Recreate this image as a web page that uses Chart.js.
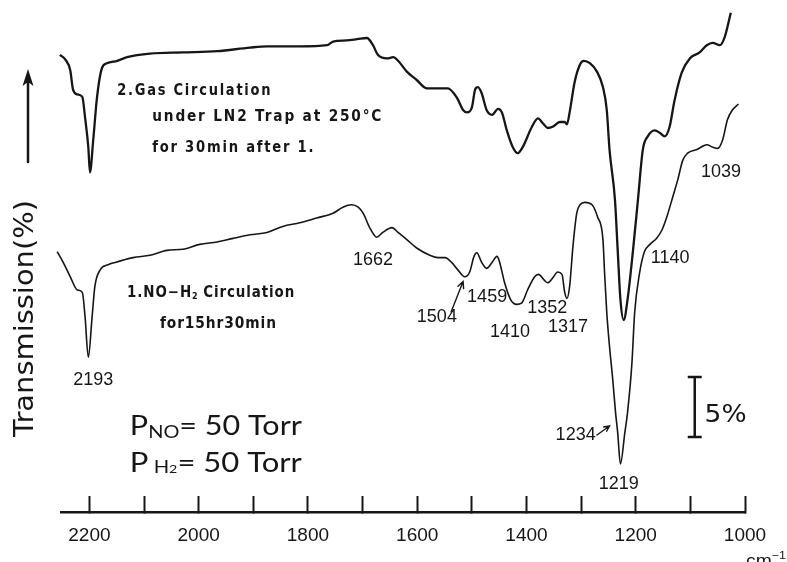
<!DOCTYPE html>
<html>
<head>
<meta charset="utf-8">
<script src="https://cdn.jsdelivr.net/npm/chart.js@4/dist/chart.umd.min.js"></script>
<style>
  html, body { margin: 0; padding: 0; background: #fff; }
</style>
</head>
<body>
<canvas id="irChart" width="787" height="562"></canvas>
<script>
// Trace 2 (gas circulation under LN2 trap), wavenumber cm-1 / transmission %
const gasWn = [2254, 2244, 2235, 2230, 2222, 2213, 2208, 2202, 2199, 2193,
  2186, 2177, 2168, 2149, 2131, 2089, 2029, 1966, 1906, 1875,
  1815, 1765, 1754, 1729, 1710, 1692, 1681, 1672, 1655, 1644,
  1635, 1619, 1601, 1582, 1571, 1553, 1544, 1527, 1516, 1509,
  1500, 1494, 1489, 1482, 1473, 1463, 1452, 1445, 1436, 1425,
  1416, 1407, 1390, 1379, 1370, 1361, 1352, 1339, 1330, 1326,
  1321, 1312, 1302, 1295, 1284, 1271, 1260, 1253, 1248, 1238,
  1233, 1228, 1222, 1215, 1205, 1196, 1187, 1178, 1165, 1156,
  1147, 1138, 1129, 1116, 1101, 1083, 1070, 1059, 1046, 1037, 1026];
const gasT = [38.1, 37.7, 36.8, 35.2, 34.8, 34.6, 32.9, 30.4, 28.3, 31.0,
  34.6, 37.0, 37.4, 37.6, 37.9, 38.2, 38.3, 38.4, 38.7, 38.8,
  38.8, 38.9, 39.2, 39.3, 39.4, 39.5, 38.9, 38.1, 37.8, 37.9,
  37.6, 36.7, 36.0, 35.3, 35.3, 35.3, 35.3, 34.5, 33.5, 33.3,
  33.7, 35.2, 35.4, 34.9, 33.5, 33.1, 33.6, 33.3, 31.8, 30.4,
  29.9, 30.4, 32.1, 32.8, 32.4, 32.0, 32.1, 32.5, 32.5, 32.3,
  33.3, 35.8, 37.3, 37.6, 37.4, 36.7, 35.4, 33.5, 30.2, 26.0,
  21.8, 17.7, 16.0, 17.7, 21.8, 26.0, 30.2, 31.3, 31.8, 31.6,
  31.3, 32.1, 34.3, 36.6, 37.8, 38.3, 38.9, 39.1, 38.9, 39.6, 41.6];

// Trace 1 (NO-H2 circulation 15hr30min)
const noWn = [2259, 2248, 2235, 2222, 2213, 2208, 2202, 2195, 2190, 2180,
  2166, 2153, 2120, 2089, 2058, 2029, 1998, 1966, 1937, 1906,
  1875, 1846, 1815, 1784, 1754, 1736, 1720, 1708, 1699, 1687,
  1674, 1663, 1646, 1635, 1619, 1601, 1577, 1562, 1549, 1537,
  1526, 1513, 1504, 1496, 1491, 1482, 1473, 1463, 1454, 1449,
  1440, 1429, 1418, 1409, 1398, 1385, 1378, 1367, 1361, 1352,
  1343, 1335, 1330, 1326, 1321, 1315, 1308, 1302, 1293, 1280,
  1270, 1260, 1257, 1253, 1248, 1242, 1237, 1233, 1228, 1220,
  1215, 1207, 1202, 1193, 1184, 1174, 1162, 1152, 1143, 1132,
  1123, 1114, 1105, 1088, 1070, 1059, 1050, 1041, 1032, 1023, 1012];
const noT = [21.7, 20.8, 19.6, 18.5, 18.3, 16.3, 12.9, 16.3, 18.8, 20.2,
  20.6, 20.8, 21.2, 21.4, 21.8, 21.9, 22.3, 22.5, 22.8, 23.1,
  23.3, 23.8, 24.1, 24.5, 24.9, 25.4, 25.6, 25.4, 24.9, 23.7,
  22.9, 23.3, 23.7, 23.3, 22.7, 22.0, 21.4, 21.2, 21.2, 20.8,
  20.2, 19.6, 20.0, 21.3, 21.6, 20.8, 20.3, 20.8, 21.3, 20.8,
  19.1, 17.7, 17.3, 17.4, 18.5, 19.6, 19.8, 19.3, 19.1, 19.5,
  20.0, 19.8, 18.3, 17.8, 18.8, 22.1, 24.9, 25.6, 25.8, 25.6,
  24.6, 22.7, 19.9, 16.6, 13.8, 11.0, 8.3, 6.6, 4.0, 6.6,
  8.3, 12.4, 16.6, 19.9, 21.7, 22.3, 22.8, 23.5, 24.6, 26.3,
  27.7, 29.3, 29.9, 30.2, 30.6, 30.4, 30.3, 31.0, 32.7, 33.5, 34.0];

const tickValues = [1000, 1100, 1200, 1300, 1400, 1500, 1600, 1700, 1800, 1900, 2000, 2100, 2200];
const tickLabels = [1000, 1200, 1400, 1600, 1800, 2000, 2200];

// band labels: text, wavenumber, transmission where the label sits
const bandText = ['2193', '1662', '1504', '1459', '1410', '1352', '1317', '1234', '1219', '1140', '1039'];
const bandWn = [2193, 1681, 1564, 1472, 1430, 1362, 1324, 1310, 1231, 1137, 1044];
const bandT = [11.0, 21.0, 16.25, 17.9, 15.0, 17.0, 15.4, 6.4, 2.3, 21.2, 28.3];

const INK = '#161616';

function drawRun(ctx, parts, x, y, width) {
  let total = 0;
  parts.forEach(p => {
    ctx.font = p.font;
    ctx.letterSpacing = p.ls || '0px';
    p.w = ctx.measureText(p.t).width;
    total += p.w;
  });
  ctx.save();
  ctx.translate(x, y);
  ctx.scale(width ? width / total : 1, 1);
  let cx = 0;
  parts.forEach(p => {
    ctx.font = p.font;
    ctx.letterSpacing = p.ls || '0px';
    ctx.fillText(p.t, cx, p.dy || 0);
    cx += p.w;
  });
  ctx.restore();
  ctx.letterSpacing = '0px';
}

function arrow(ctx, x1, y1, x2, y2, head) {
  const a = Math.atan2(y2 - y1, x2 - x1);
  ctx.beginPath();
  ctx.moveTo(x1, y1);
  ctx.lineTo(x2, y2);
  ctx.moveTo(x2 - head * Math.cos(a - 0.45), y2 - head * Math.sin(a - 0.45));
  ctx.lineTo(x2, y2);
  ctx.lineTo(x2 - head * Math.cos(a + 0.45), y2 - head * Math.sin(a + 0.45));
  ctx.stroke();
}

const annotate = {
  id: 'annotate',
  afterDatasetsDraw(chart) {
    const ctx = chart.ctx;
    const px = v => chart.scales.x.getPixelForValue(v);
    const py = v => chart.scales.y.getPixelForValue(v);
    ctx.save();
    ctx.fillStyle = INK;
    ctx.strokeStyle = INK;
    ctx.lineCap = 'round';
    ctx.textBaseline = 'alphabetic';
    ctx.textAlign = 'left';

    // y label with upward arrow
    ctx.lineWidth = 2.5;
    ctx.beginPath();
    ctx.moveTo(28, 162);
    ctx.lineTo(28, 80);
    ctx.stroke();
    ctx.beginPath();
    ctx.moveTo(28, 69);
    ctx.lineTo(22.5, 86);
    ctx.lineTo(28, 82);
    ctx.lineTo(33.5, 86);
    ctx.closePath();
    ctx.fill();
    ctx.save();
    ctx.translate(33, 437);
    ctx.rotate(-Math.PI / 2);
    drawRun(ctx, [{ t: 'Transmission(%)', font: "27px 'DejaVu Sans'" }], 0, 0, 237);
    ctx.restore();

    // run conditions
    const typeFont = "bold 15px 'DejaVu Sans'";
    drawRun(ctx, [{ t: '2.Gas Circulation', font: typeFont, ls: '2px' }], px(2149), py(34.75), 155);
    drawRun(ctx, [{ t: 'under LN2 Trap at 250°C', font: typeFont, ls: '2px' }], px(2085), py(32.6), 231);
    drawRun(ctx, [{ t: 'for 30min after 1.', font: typeFont, ls: '2px' }], px(2085), py(30.0), 163);
    drawRun(ctx, [
      { t: '1.NO−H', font: typeFont, ls: '1px' },
      { t: '2', font: "bold 9px 'DejaVu Sans'", dy: 2 },
      { t: ' Circulation', font: typeFont, ls: '1px' }
    ], px(2131), py(17.9), 168);
    drawRun(ctx, [{ t: 'for15hr30min', font: typeFont, ls: '1px' }], px(2071), py(15.33), 117);

    // pressures
    const big = "26px 'Lato', 'DejaVu Sans'";
    const sub = "17px 'Lato', 'DejaVu Sans'";
    drawRun(ctx, [
      { t: 'P', font: big },
      { t: 'NO', font: sub, dy: 3 },
      { t: '= 50 Torr', font: big }
    ], px(2126), py(6.42), 172);
    drawRun(ctx, [
      { t: 'P', font: big },
      { t: ' H', font: sub, dy: 1 },
      { t: '2', font: "12px 'Lato', 'DejaVu Sans'", dy: 1 },
      { t: '= 50 Torr', font: big }
    ], px(2126), py(3.33), 172);

    // band positions
    ctx.textAlign = 'center';
    ctx.textBaseline = 'middle';
    ctx.font = "18px 'Liberation Sans'";
    bandText.forEach((t, i) => ctx.fillText(t, px(bandWn[i]), py(bandT[i])));
    ctx.lineWidth = 1.4;
    arrow(ctx, px(1538), py(16.67), px(1516), py(19.2), 7);
    arrow(ctx, px(1271), py(6.42), px(1248), py(7.17), 6);

    // 5% scale bar
    ctx.lineWidth = 2.5;
    ctx.lineCap = 'butt';
    const bx = px(1092);
    ctx.beginPath();
    ctx.moveTo(bx, py(11.25));
    ctx.lineTo(bx, py(6.25));
    ctx.moveTo(bx - 7, py(11.25));
    ctx.lineTo(bx + 7, py(11.25));
    ctx.moveTo(bx - 7, py(6.25));
    ctx.lineTo(bx + 7, py(6.25));
    ctx.stroke();
    ctx.textAlign = 'left';
    ctx.textBaseline = 'alphabetic';
    drawRun(ctx, [{ t: '5%', font: "25px 'DejaVu Sans'" }], px(1074), py(7.5), 42);

    // unit under the axis end
    drawRun(ctx, [
      { t: 'cm', font: "17px 'Liberation Sans'" },
      { t: '−1', font: "11px 'Liberation Sans'", dy: -7 }
    ], 746, 566, 40);
    ctx.restore();
  }
};

const ctx = document.getElementById('irChart').getContext('2d');
new Chart(ctx, {
  type: 'line',
  data: {
    datasets: [
      {
        label: '2. Gas circulation under LN2 trap at 250°C',
        data: gasWn.map((w, i) => ({ x: w, y: gasT[i] })),
        borderColor: INK,
        borderWidth: 2.3,
        pointRadius: 0,
        cubicInterpolationMode: 'monotone',
        clip: false
      },
      {
        label: '1. NO-H2 circulation for 15hr30min',
        data: noWn.map((w, i) => ({ x: w, y: noT[i] })),
        borderColor: INK,
        borderWidth: 1.6,
        pointRadius: 0,
        cubicInterpolationMode: 'monotone',
        clip: false
      }
    ]
  },
  options: {
    responsive: false,
    animation: false,
    layout: { padding: { left: 61, right: 42, top: 0, bottom: 0 } },
    scales: {
      x: {
        type: 'linear',
        position: 'bottom',
        reverse: true,
        min: 1000,
        max: 2252,
        afterBuildTicks: s => { s.ticks = tickValues.map(v => ({ value: v })); },
        afterFit: s => { s.height = 50; },
        border: { display: true, color: INK, width: 2.5 },
        grid: { display: true, drawOnChartArea: false, drawTicks: true, tickLength: -16, tickWidth: 2, tickColor: INK, color: INK },
        ticks: {
          autoSkip: false,
          maxRotation: 0,
          padding: 28,
          color: INK,
          font: { family: "'Liberation Sans'", size: 19 },
          callback: v => (tickLabels.includes(v) ? String(v) : '')
        }
      },
      y: {
        display: false,
        min: 0,
        max: 512 / 12
      }
    },
    plugins: {
      legend: { display: false },
      tooltip: { enabled: false }
    }
  },
  plugins: [annotate]
});
</script>
</body>
</html>
